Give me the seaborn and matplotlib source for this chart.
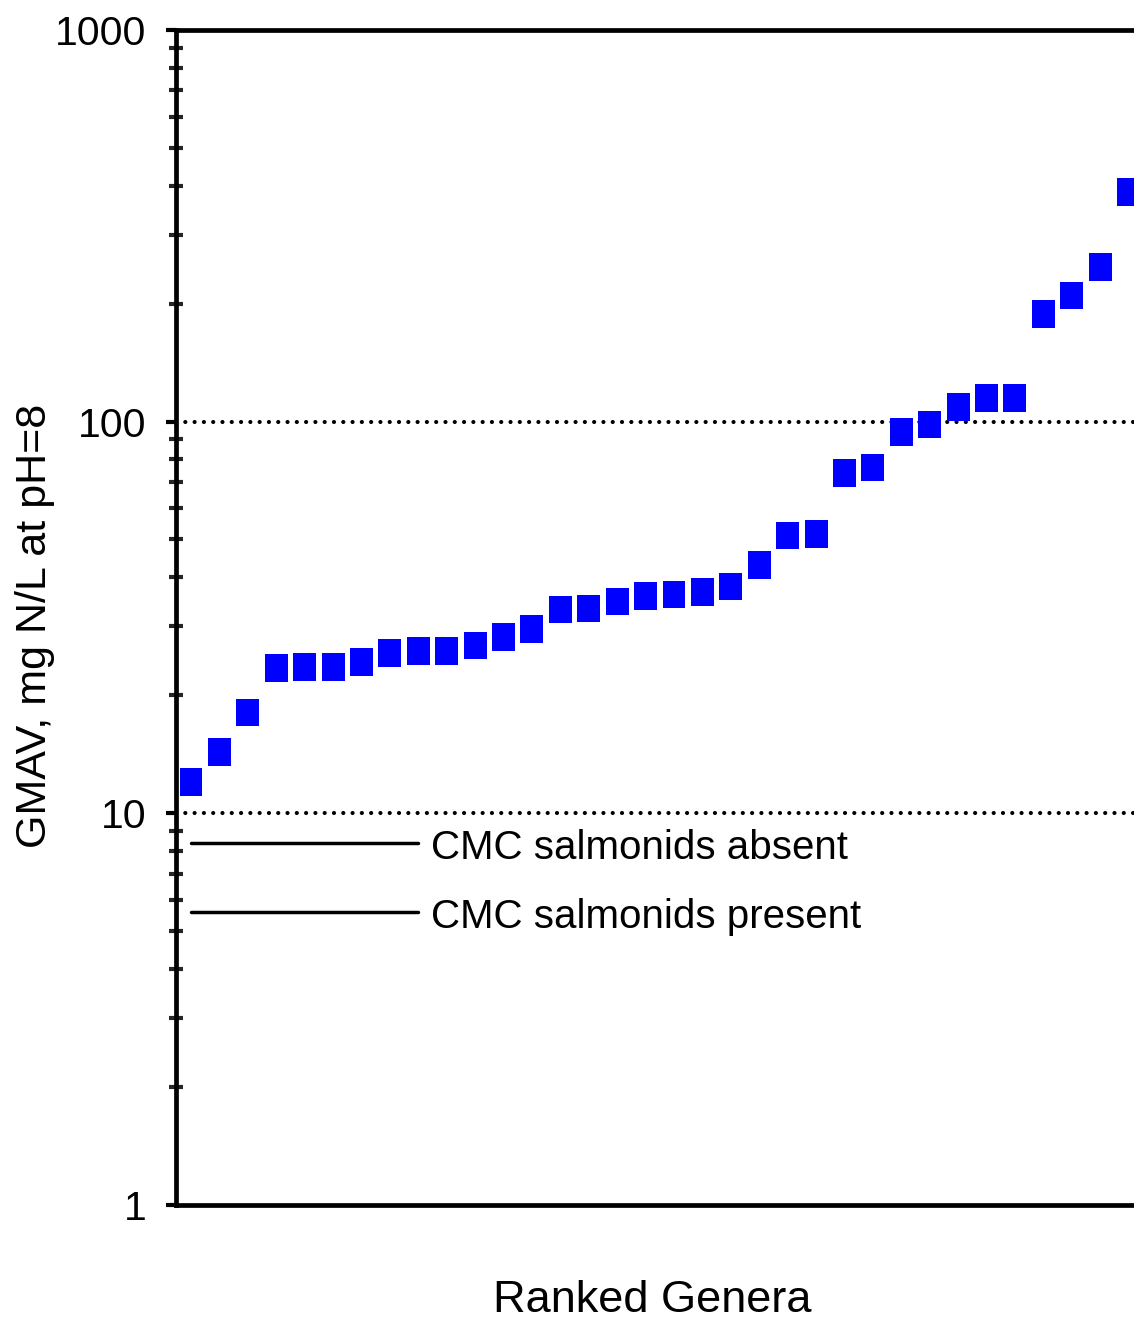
import numpy as np
import pandas as pd
import matplotlib
matplotlib.use("Agg")
import matplotlib.pyplot as plt
from matplotlib.path import Path
from matplotlib.ticker import LogLocator, NullFormatter
import seaborn as sns

# ---- data ----
ranks = list(range(1, 35))
gmav = [12.02, 14.32, 18.09, 23.45, 23.6, 23.6, 24.3, 25.7, 26.0, 26.0,
        26.8, 28.2, 29.5, 33.1, 33.3, 34.7, 35.8, 36.2, 36.7, 37.9,
        43.1, 51.2, 51.7, 73.8, 76.4, 94.0, 98.3, 108.8, 114.7, 115.0,
        188.5, 209.6, 248.0, 385.2]
cmc_labels = ["CMC salmonids absent", "CMC salmonids present"]
cmc_values = [8.4, 5.6]
cmc_x_range = [1, 9]
ref_lines = [100, 10]
ytick_values = [1, 10, 100, 1000]
ytick_labels = ["1", "10", "100", "1000"]
x_label = "Ranked Genera"
y_label = "GMAV, mg N/L at pH=8"

df = pd.DataFrame({"rank": ranks, "gmav": gmav})

sns.set_theme(style="white")
plt.rcParams["font.family"] = ["Liberation Sans", "DejaVu Sans"]

W, H = 1134, 1320
fig = plt.figure(figsize=(W / 100, H / 100), dpi=100)
ax_left, ax_right = 176.3 / W, 1.0
ax_top, ax_bottom = 1 - 29.8 / H, 1 - 1205 / H
ax = fig.add_axes([ax_left, ax_bottom, ax_right - ax_left, ax_top - ax_bottom])

# rectangle marker (slightly taller than wide)
rw = 0.415
rect = Path([(-rw, -0.5), (rw, -0.5), (rw, 0.5), (-rw, 0.5), (-rw, -0.5)],
            [Path.MOVETO, Path.LINETO, Path.LINETO, Path.LINETO, Path.CLOSEPOLY])

ax.set_yscale("log")
for v in ref_lines:
    ax.axhline(v, color="black", lw=3.0, linestyle=(0, (0.01, 2.22)),
               dash_capstyle="round", zorder=1)

sns.scatterplot(data=df, x="rank", y="gmav", ax=ax, marker=rect, s=19.9 ** 2,
                color="#0000ff", linewidth=0, edgecolor="none", zorder=3,
                legend=False)

for lab, v in zip(cmc_labels, cmc_values):
    ax.plot(cmc_x_range, [v, v], color="black", lw=2.5, solid_capstyle="round",
            zorder=2)
    ax.annotate(lab, xy=(cmc_x_range[1], v), xytext=(9.5, -11.5),
                textcoords="offset points", ha="left", va="baseline",
                fontsize=29, color="black")

ax.set_xlim(0.483, 34.19)
ax.set_ylim(1, 1000)

ax.set_yticks(ytick_values)
ax.set_yticklabels(ytick_labels)
ax.yaxis.set_minor_locator(LogLocator(base=10, subs=np.arange(2, 10), numticks=20))
ax.yaxis.set_minor_formatter(NullFormatter())
ax.tick_params(axis="y", which="major", direction="out", length=7.5, width=3.0,
               pad=14, labelsize=29.5, colors="black", left=True)
ax.tick_params(axis="y", which="minor", direction="inout", length=9.4,
               width=3.0, left=True)
ax.set_xticks([])

for side in ["left", "top", "bottom"]:
    ax.spines[side].set_visible(True)
    ax.spines[side].set_color("black")
    ax.spines[side].set_linewidth(3.4)
ax.spines["right"].set_visible(False)

ax.set_xlabel(x_label, fontsize=32.5, color="black")
ax.xaxis.set_label_coords(0.497, -(1300 - 1205) / (1205 - 29.8))
ax.xaxis.label.set_va("center")
ax.set_ylabel(y_label, fontsize=31, color="black", va="center", ha="center")
ax.yaxis.set_label_coords(-(176.3 - 35) / (W - 176.3), (1205 - 626) / (1205 - 29.8))

fig.savefig("out.png", dpi=100, facecolor="white")
